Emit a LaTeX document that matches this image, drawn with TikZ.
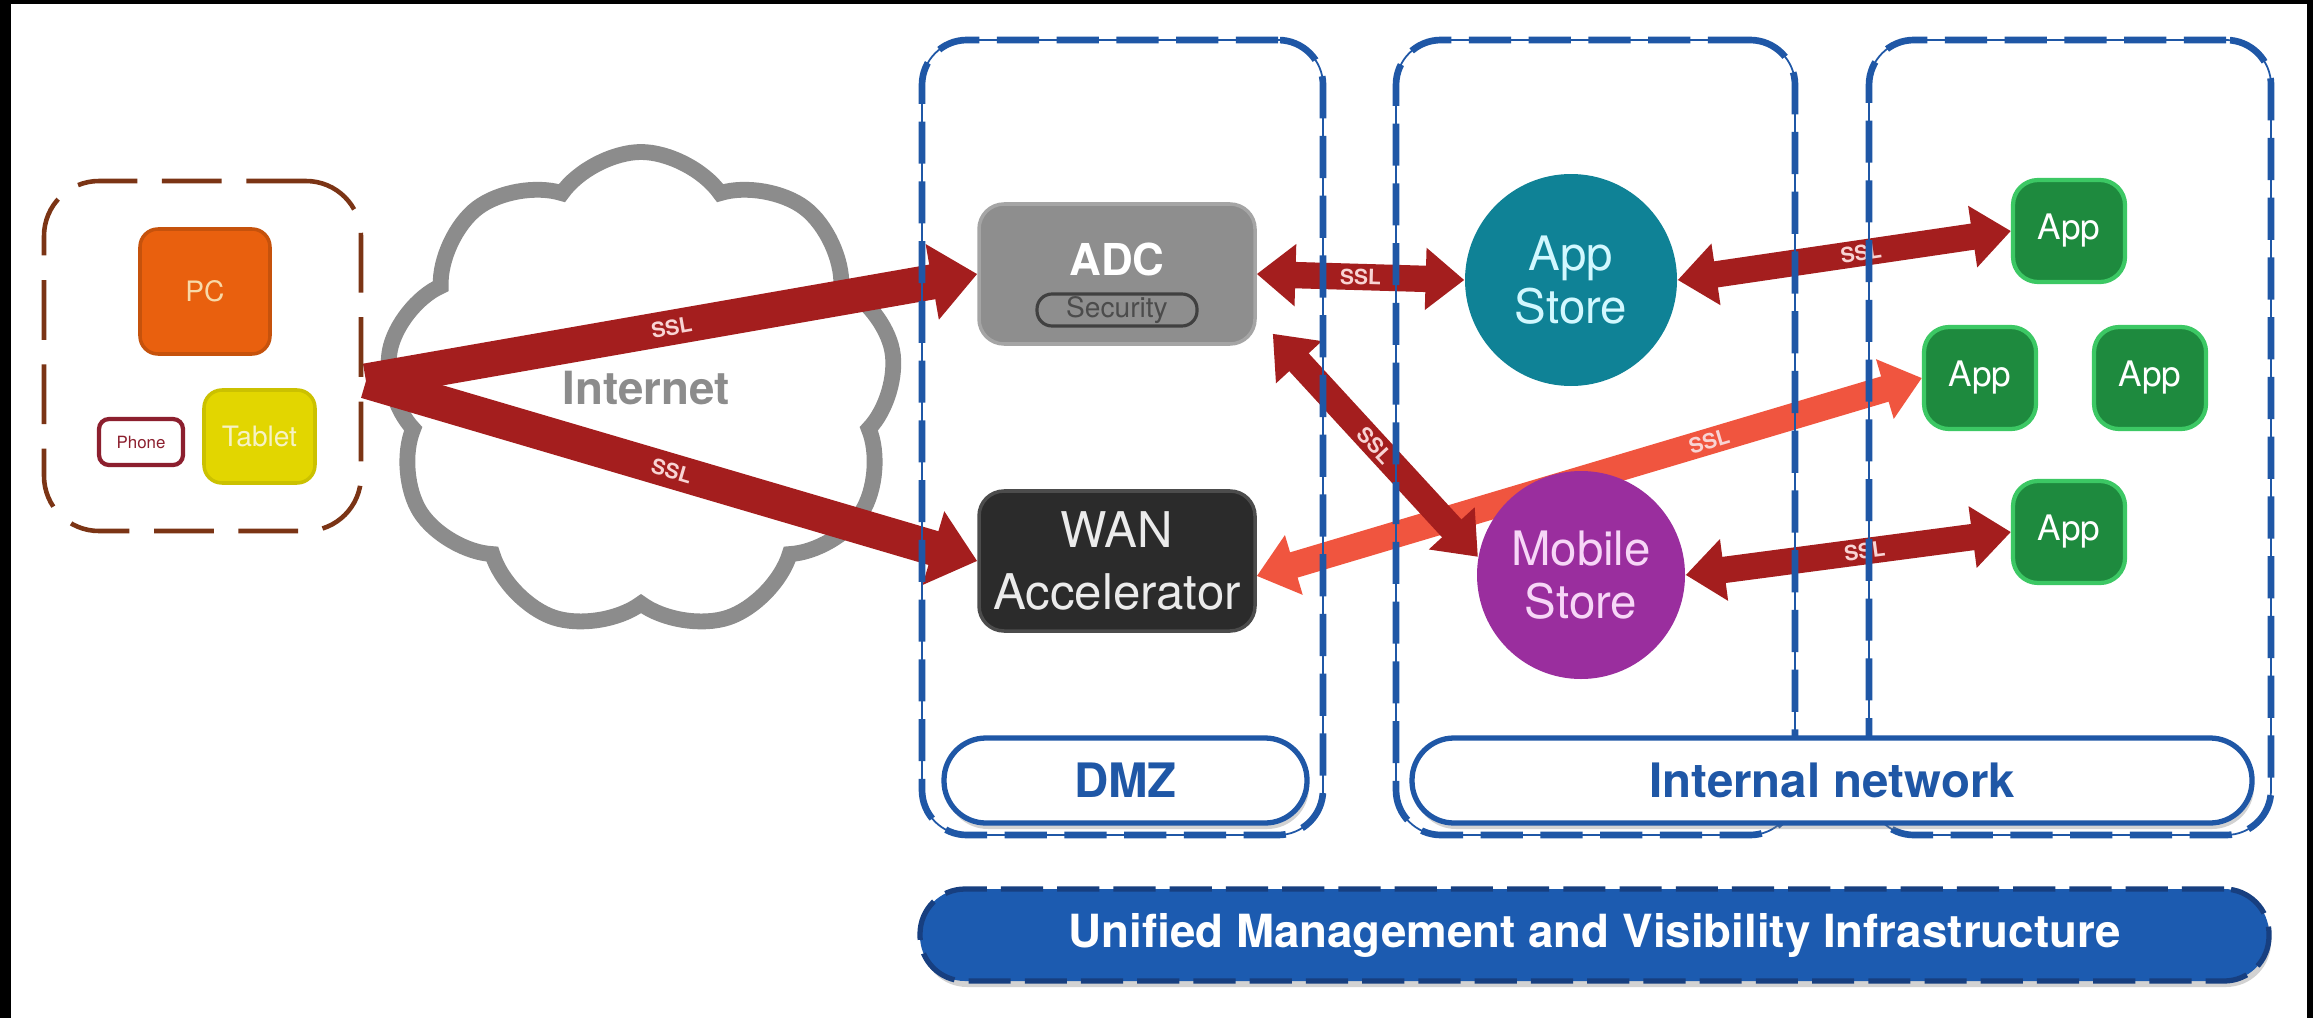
\documentclass[tikz,border=0pt]{standalone}
\usepackage{fontspec}
\setmainfont{TeX Gyre Heros}
\usepackage{tikz}
\usetikzlibrary{arrows.meta, backgrounds, shapes.symbols, shadows}
\definecolor{devbrown}{HTML}{7B3415}
\definecolor{pcorange}{HTML}{E9600E}
\definecolor{pctext}{HTML}{F8D9A8}
\definecolor{phonered}{HTML}{8C1F2E}
\definecolor{tabyellow}{HTML}{E2D600}
\definecolor{tabtext}{HTML}{F6F2C4}
\definecolor{cloudgray}{HTML}{8C8C8C}
\definecolor{adcgray}{HTML}{8E8E8E}
\definecolor{wandark}{HTML}{2B2B2B}
\definecolor{storeteal}{HTML}{0F8296}
\definecolor{storetext}{HTML}{D2F8FF}
\definecolor{mobpurple}{HTML}{9A2E9E}
\definecolor{mobtext}{HTML}{F7D6F7}
\definecolor{appgreen}{HTML}{1E8A3E}
\definecolor{appedge}{HTML}{3CC864}
\definecolor{zoneblue}{HTML}{1F57A6}
\definecolor{barblue}{HTML}{1C5BB0}
\definecolor{bardark}{HTML}{173F80}
\definecolor{sslred}{HTML}{A41E1E}
\definecolor{ssllight}{HTML}{F0553F}
\definecolor{sslpink}{HTML}{F8D4D4}

\tikzset{
  devbox/.style={draw=devbrown, line width=1.3pt, dash pattern=on 17pt off 7pt, rounded corners=0.55cm},
  tile/.style={rounded corners=0.18cm, line width=1pt, inner sep=0pt},
  box/.style={rounded corners=0.25cm, minimum width=2.76cm, minimum height=1.40cm, line width=1pt, inner sep=0pt},
  store/.style={circle, minimum size=2.12cm, inner sep=0pt, align=center, font=\fontsize{13.5}{15}\selectfont},
  app/.style={fill=appgreen, draw=appedge, line width=1.2pt, rounded corners=0.25cm, minimum width=1.12cm, minimum height=1.02cm, text=white, font=\fontsize{10}{12}\selectfont},
  zone/.style={draw=zoneblue, line width=1.9pt, dash pattern=on 12pt off 5pt, rounded corners=0.45cm, minimum height=7.95cm, preaction={draw=zoneblue, line width=0.5pt, solid}},
  tag/.style={fill=white, draw=zoneblue, line width=1.5pt, rounded corners=0.42cm, minimum height=0.85cm, text=zoneblue, font=\bfseries\fontsize{13.5}{16}\selectfont, drop shadow={shadow xshift=0.02cm, shadow yshift=-0.06cm, opacity=0.35}},
  sslarrow/.style={draw=sslred, line width=10pt, -{Triangle[length=13pt,width=21pt]}},
  ssllink/.style={draw=sslred, line width=7.5pt, {Triangle[length=11pt,width=17pt]}-{Triangle[length=11pt,width=17pt]}},
  ssltext/.style={text=sslpink, font=\bfseries\fontsize{6}{7}\selectfont, inner sep=0pt, sloped}
}

\begin{document}
\begin{tikzpicture}
\useasboundingbox (0,0) rectangle (23.13,10.18);
% client devices
\node[devbox, minimum width=3.17cm, minimum height=3.50cm] (devices) at (2.025,6.62) {};
\node[tile, fill=pcorange, draw=pcorange!85!black, minimum width=1.30cm, minimum height=1.25cm, text=pctext, font=\fontsize{8}{10}\selectfont] (pc) at (2.05,7.265) {PC};
\node[tile, fill=white, draw=phonered, line width=1.2pt, rounded corners=0.1cm, minimum width=0.84cm, minimum height=0.46cm, text=phonered, font=\fontsize{4.8}{6}\selectfont] (phone) at (1.41,5.76) {Phone};
\node[tile, fill=tabyellow, draw=tabyellow!90!black, minimum width=1.11cm, minimum height=0.93cm, text=tabtext, font=\fontsize{8}{10}\selectfont] (tablet) at (2.595,5.815) {Tablet};
\coordinate (hub) at (3.66,6.37);

% dmz
\node[box, fill=adcgray, draw=adcgray!80!white] (adc) at (11.17,7.44) {};
\node[text=white, font=\bfseries\fontsize{12.5}{15}\selectfont] (adctxt) at (11.17,7.59) {ADC};
\node[fill=adcgray, draw=black!75, line width=0.9pt, rounded corners=0.15cm, minimum width=1.60cm, minimum height=0.32cm, inner sep=0pt, text=black!70, font=\fontsize{8}{9}\selectfont] (sec) at (11.17,7.08) {Security};
\node[box, fill=wandark, draw=black!70, text=white!92!black, align=center, font=\fontsize{14}{17.5}\selectfont] (wan) at (11.17,4.57) {WAN\\Accelerator};

% internal network
\node[store, fill=storeteal, text=storetext] (appstore) at (15.71,7.38) {App\\Store};
\node[store, fill=mobpurple, text=mobtext, minimum size=2.08cm] (mobile) at (15.81,4.43) {Mobile\\Store};
\node[app] (app1) at (20.69,7.87) {App};
\node[app] (app2) at (19.80,6.40) {App};
\node[app] (app3) at (21.50,6.40) {App};
\node[app] (app4) at (20.69,4.86) {App};

\begin{scope}[on background layer]
  \fill[white] (0,0) rectangle (23.13,10.18);
  \node[cloud, cloud puffs=9, cloud puff arc=110, aspect=1.1, draw=cloudgray, line width=4.5pt, minimum width=5.1cm, minimum height=4.8cm] (net) at (6.41,6.26) {};
  \node[text=cloudgray, font=\bfseries\fontsize{13}{15}\selectfont] (nettxt) at (6.46,6.30) {Internet};
  \draw[sslarrow] (hub) -- node[ssltext] (ssl1) {SSL} (adc.west);
  \draw[sslarrow] (hub) -- node[ssltext] (ssl2) {SSL} (wan.west);
  \draw[ssllink, draw=ssllight] ([yshift=-0.15cm]wan.east) -- node[ssltext, pos=0.68] (ssl3) {SSL} (app2.west);
  \draw[ssllink] (adc.east) -- node[ssltext] (ssl4) {SSL} (appstore.west);
  \draw[ssllink] ([shift={(0.16,0.12)}]adc.south east) -- node[ssltext, pos=0.5] (ssl5) {SSL} (mobile.170);
  \draw[ssllink] (appstore.east) -- node[ssltext, pos=0.55] (ssl6) {SSL} (app1.west);
  \draw[ssllink] (mobile.east) -- node[ssltext, pos=0.55] (ssl7) {SSL} (app4.west);
\end{scope}

% zones
\node[zone, minimum width=4.01cm] (dmz) at (11.225,5.805) {};
\node[zone, minimum width=3.99cm] (midzone) at (15.955,5.805) {};
\node[zone, minimum width=4.02cm] (appzone) at (20.70,5.805) {};
\node[tag, minimum width=3.63cm] (dmztag) at (11.255,2.375) {DMZ};
\node[tag, minimum width=8.40cm] (inttag) at (18.32,2.375) {Internal network};
\node[fill=barblue, draw=bardark, line width=1.5pt, dash pattern=on 12pt off 4pt, rounded corners=0.45cm, minimum width=13.49cm, minimum height=0.92cm, text=white, font=\bfseries\fontsize{13}{16}\selectfont, drop shadow={shadow xshift=0.02cm, shadow yshift=-0.06cm, opacity=0.35}] (mgmt) at (15.945,0.83) {Unified Management and Visibility Infrastructure};

% frame
\fill[black] (0,0) rectangle (0.11,10.18);
\fill[black] (0,10.14) rectangle (23.13,10.18);
\fill[black] (23.07,0) rectangle (23.13,10.18);
\end{tikzpicture}
\end{document}
